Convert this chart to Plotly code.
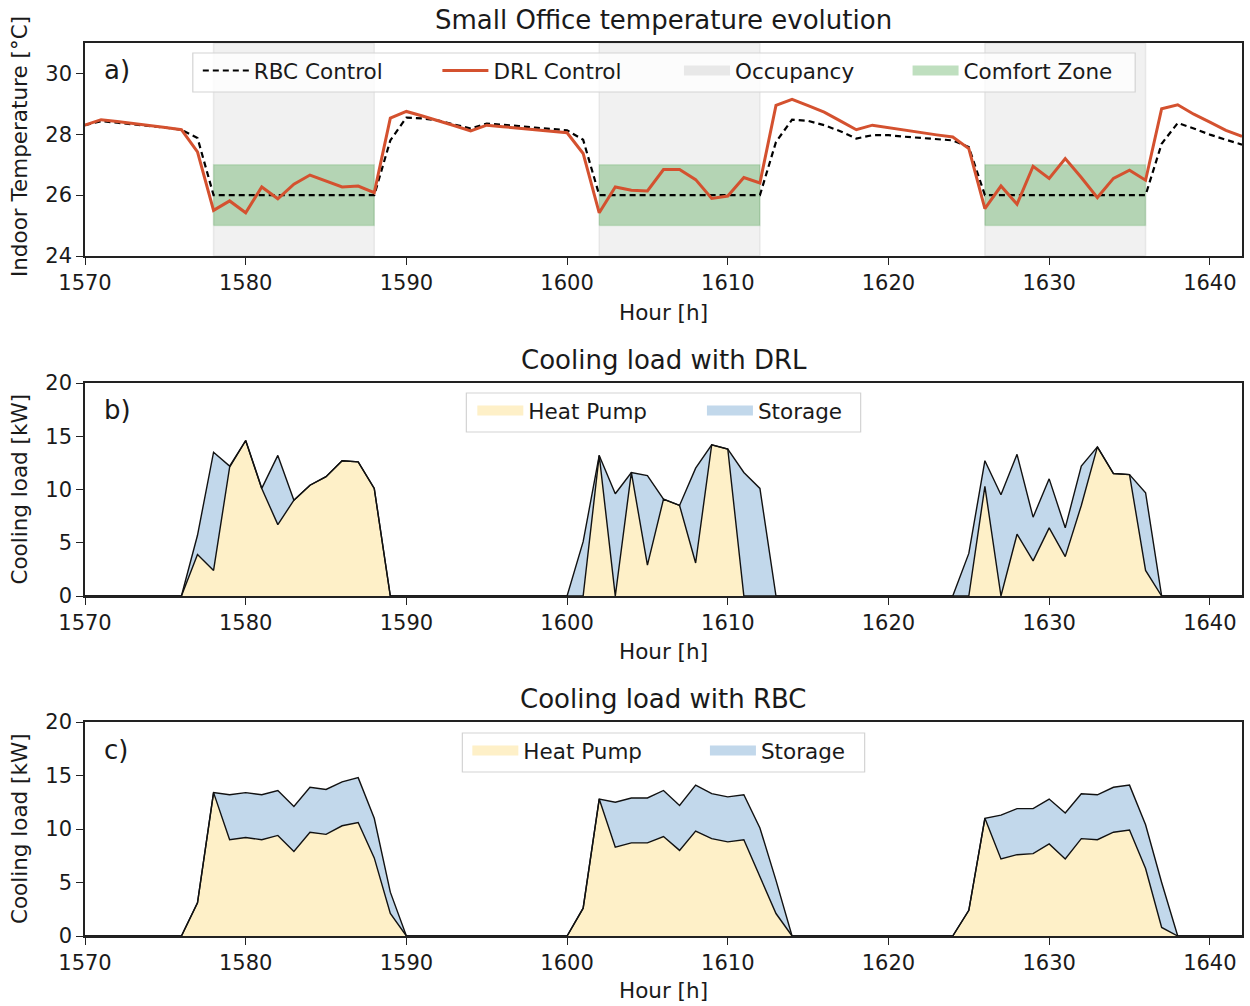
import plotly.graph_objects as go

# ---------------- data ----------------
HOURS = list(range(1570, 1643))
TICK_HOURS = [1570, 1580, 1590, 1600, 1610, 1620, 1630, 1640]

T_RBC = [28.30, 28.43, 28.38, 28.33, 28.28, 28.22, 28.15, 27.88,
         26.0, 26.0, 26.0, 26.0, 26.0, 26.0, 26.0, 26.0, 26.0, 26.0, 26.0,
         27.80, 28.55, 28.52, 28.45, 28.32, 28.19, 28.35, 28.32, 28.27, 28.22, 28.17, 28.13, 27.82,
         26.0, 26.0, 26.0, 26.0, 26.0, 26.0, 26.0, 26.0, 26.0, 26.0, 26.0,
         27.75, 28.48, 28.44, 28.30, 28.10, 27.86, 27.97, 27.97, 27.92, 27.88, 27.84, 27.80, 27.58,
         26.0, 26.0, 26.0, 26.0, 26.0, 26.0, 26.0, 26.0, 26.0, 26.0, 26.0,
         27.69, 28.37, 28.19, 27.99, 27.82, 27.66]

T_DRL = [28.30, 28.48, 28.42, 28.36, 28.30, 28.22, 28.15, 27.42,
         25.50, 25.81, 25.42, 26.27, 25.88, 26.36, 26.66, 26.46, 26.27, 26.30, 26.08,
         28.53, 28.75, 28.60, 28.45, 28.28, 28.11, 28.30, 28.25, 28.20, 28.15, 28.10, 28.05, 27.37,
         25.42, 26.27, 26.16, 26.14, 26.84, 26.84, 26.51, 25.89, 25.97, 26.58, 26.40,
         28.95, 29.15, 28.94, 28.73, 28.44, 28.15, 28.30, 28.22, 28.12, 28.05, 27.98, 27.91, 27.53,
         25.56, 26.30, 25.70, 26.95, 26.55, 27.20, 26.58, 25.92, 26.55, 26.82, 26.49,
         28.84, 28.97, 28.66, 28.40, 28.13, 27.93]

OCC_START = [1578, 1602, 1626]
OCC_END = [1588, 1612, 1636]
COMFORT_LOW = 25
COMFORT_HIGH = 27

HP_DRL = [0, 0, 0, 0, 0, 0, 0, 3.9,
          2.4, 12.1, 14.6, 10.1, 6.7, 9.0, 10.4, 11.2, 12.7, 12.6, 10.1,
          0, 0, 0, 0, 0, 0, 0, 0, 0, 0, 0, 0, 0,
          13.2, 0, 11.6, 2.9, 9.1, 8.5, 3.1, 14.2, 13.8, 0, 0,
          0, 0, 0, 0, 0, 0, 0, 0, 0, 0, 0, 0, 0,
          10.3, 0, 5.8, 3.3, 6.4, 3.7, 8.5, 14.0, 11.5, 11.4, 2.4,
          0, 0, 0, 0, 0, 0]

ST_DRL = [0, 0, 0, 0, 0, 0, 0, 1.8,
          11.1, 0.1, 0, 0, 6.5, 0, 0, 0, 0, 0, 0,
          0, 0, 0, 0, 0, 0, 0, 0, 0, 0, 0, 0, 5.1,
          0, 9.6, 0, 8.4, 0, 0, 8.9, 0, 0, 11.6, 10.1,
          0, 0, 0, 0, 0, 0, 0, 0, 0, 0, 0, 0, 4.0,
          2.4, 9.5, 7.5, 4.1, 4.6, 2.7, 3.7, 0, 0, 0, 7.3,
          0, 0, 0, 0, 0, 0]

HP_RBC = [0, 0, 0, 0, 0, 0, 0, 3.1,
          13.4, 9.0, 9.2, 9.0, 9.4, 7.9, 9.7, 9.5, 10.3, 10.6, 7.3,
          2.1, 0, 0, 0, 0, 0, 0, 0, 0, 0, 0, 0, 2.6,
          12.8, 8.3, 8.7, 8.7, 9.3, 8.0, 9.8, 9.1, 8.8, 9.0, 5.5,
          2.1, 0, 0, 0, 0, 0, 0, 0, 0, 0, 0, 0, 2.4,
          11.0, 7.2, 7.6, 7.7, 8.6, 7.2, 9.1, 9.0, 9.7, 9.9, 6.3,
          0.8, 0, 0, 0, 0, 0]

ST_RBC = [0, 0, 0, 0, 0, 0, 0, 0,
          0, 4.2, 4.2, 4.2, 4.2, 4.2, 4.2, 4.2, 4.1, 4.2, 3.7,
          2.0, 0, 0, 0, 0, 0, 0, 0, 0, 0, 0, 0, 0,
          0, 4.2, 4.2, 4.2, 4.3, 4.2, 4.3, 4.2, 4.2, 4.2, 4.6,
          3.1, 0, 0, 0, 0, 0, 0, 0, 0, 0, 0, 0, 0,
          0, 4.1, 4.3, 4.2, 4.2, 4.3, 4.2, 4.2, 4.2, 4.2, 4.1,
          4.2, 0, 0, 0, 0, 0]

YT_A = [24, 26, 28, 30]
YT_LOAD = [0, 5, 10, 15, 20]

# ---------------- style ----------------
FONT = "DejaVu Sans"
TXT = "#1a1a1a"
RED = "#D4512F"
HP_COL = "#FEF0C8"
ST_COL = "#C2D8EB"
OCC_FILL = "rgba(211,211,211,0.32)"
OCC_EDGE = "rgba(200,200,200,0.35)"
CZ_FILL = "rgba(0,128,0,0.25)"
CZ_EDGE = "rgba(0,128,0,0.12)"
YR_A = [24, 31]
YR_L = [0, 20]

W, H = 1250, 1006
ML, MR, MT, MB = 85, 6, 43, 70
PW, PH = W - ML - MR, H - MT - MB


def py(pix):
    return (H - MB - pix) / PH


def px(pix):
    return (pix - ML) / PW


fig = go.Figure()

# occupancy and comfort rectangles built from intervals
occ_x, occ_y, cz_x, cz_y = [], [], [], []
for s, e in zip(OCC_START, OCC_END):
    occ_x += [s, e, e, s, s, None]
    occ_y += [YR_A[0], YR_A[0], YR_A[1], YR_A[1], YR_A[0], None]
    cz_x += [s, e, e, s, s, None]
    cz_y += [COMFORT_LOW, COMFORT_LOW, COMFORT_HIGH, COMFORT_HIGH, COMFORT_LOW, None]

fig.add_trace(go.Scatter(x=occ_x, y=occ_y, mode="lines", fill="toself", fillcolor=OCC_FILL,
                         line=dict(color=OCC_EDGE, width=1.5), showlegend=False, hoverinfo="skip",
                         xaxis="x", yaxis="y"))
fig.add_trace(go.Scatter(x=cz_x, y=cz_y, mode="lines", fill="toself", fillcolor=CZ_FILL,
                         line=dict(color=CZ_EDGE, width=1.5), showlegend=False, hoverinfo="skip",
                         xaxis="x", yaxis="y"))
fig.add_trace(go.Scatter(x=HOURS, y=T_RBC, mode="lines", name="RBC Control",
                         line=dict(color="black", width=2.2, dash="6px,4px"),
                         xaxis="x", yaxis="y", legend="legend"))
fig.add_trace(go.Scatter(x=HOURS, y=T_DRL, mode="lines", name="DRL Control",
                         line=dict(color=RED, width=3),
                         xaxis="x", yaxis="y", legend="legend2"))
# legend proxies for patches
fig.add_trace(go.Scatter(x=[None], y=[None], mode="lines", name="Occupancy",
                         line=dict(color="rgba(215,215,215,0.55)", width=10),
                         xaxis="x", yaxis="y", legend="legend3"))
fig.add_trace(go.Scatter(x=[None], y=[None], mode="lines", name="Comfort Zone",
                         line=dict(color="rgba(0,128,0,0.25)", width=10),
                         xaxis="x", yaxis="y", legend="legend4"))

# cooling loads
for hp, st, xa, ya, grp, lg1, lg2 in [(HP_DRL, ST_DRL, "x2", "y2", "b", "legend5", "legend6"),
                                      (HP_RBC, ST_RBC, "x3", "y3", "c", "legend7", "legend8")]:
    fig.add_trace(go.Scatter(x=HOURS, y=hp, mode="lines", stackgroup=grp, fillcolor=HP_COL,
                             line=dict(color="#111", width=1.4), showlegend=False,
                             xaxis=xa, yaxis=ya))
    fig.add_trace(go.Scatter(x=HOURS, y=st, mode="lines", stackgroup=grp, fillcolor=ST_COL,
                             line=dict(color="#111", width=1.4), showlegend=False,
                             xaxis=xa, yaxis=ya))
    fig.add_trace(go.Scatter(x=[None], y=[None], mode="lines", name="Heat Pump",
                             line=dict(color=HP_COL, width=10), xaxis=xa, yaxis=ya, legend=lg1))
    fig.add_trace(go.Scatter(x=[None], y=[None], mode="lines", name="Storage",
                             line=dict(color=ST_COL, width=10), xaxis=xa, yaxis=ya, legend=lg2))

# ---------------- layout ----------------
xcommon = dict(range=[1570, 1642], tickvals=TICK_HOURS, ticks="outside", ticklen=7, tickwidth=1.4,
               tickcolor="#222", showline=True, mirror=True, linecolor="#222", linewidth=1.5,
               showgrid=False, zeroline=False, tickfont=dict(size=21, color=TXT, family=FONT))
ycommon = dict(ticks="outside", ticklen=7, tickwidth=1.4, tickcolor="#222", showline=True,
               mirror=True, linecolor="#222", linewidth=1.5, showgrid=False, zeroline=False,
               tickfont=dict(size=21, color=TXT, family=FONT))

legcommon = dict(orientation="h", bgcolor="rgba(0,0,0,0)", borderwidth=0,
                 font=dict(size=21.5, color=TXT, family=FONT), itemwidth=46,
                 xanchor="left", yanchor="top", traceorder="normal")

# legend item placements: (patch left pixel, box top pixel)
LEG_POS = {
    "legend": (204, 53), "legend2": (444, 53), "legend3": (686, 53), "legend4": (915, 53),
    "legend5": (479, 393), "legend6": (709, 393),
    "legend7": (474, 733), "legend8": (712, 733),
}
legends = {k: dict(x=px(v[0] - 6), y=py(v[1] - 3), **legcommon) for k, v in LEG_POS.items()}

# legend frames: (left, right, top, bottom) pixels
LEG_BOX = [(193, 1137, 53, 92), (467, 862, 393, 432), (463, 866, 733, 772)]
shapes = [dict(type="rect", xref="paper", yref="paper", x0=px(l), x1=px(r), y0=py(b), y1=py(t),
               fillcolor="rgba(255,255,255,0.8)", line=dict(color="#D3D3D3", width=1.2),
               layer="above") for (l, r, t, b) in LEG_BOX]

fig.update_layout(
    width=W, height=H, margin=dict(l=ML, r=MR, t=MT, b=MB),
    plot_bgcolor="white", paper_bgcolor="white",
    font=dict(family=FONT, color=TXT),
    xaxis=dict(domain=[0, 1], anchor="y", **xcommon),
    yaxis=dict(domain=[py(256), 1], anchor="x", range=YR_A, tickvals=YT_A, **ycommon),
    xaxis2=dict(domain=[0, 1], anchor="y2", **xcommon),
    yaxis2=dict(domain=[py(596), py(383)], anchor="x2", range=YR_L, tickvals=YT_LOAD, **ycommon),
    xaxis3=dict(domain=[0, 1], anchor="y3", **xcommon),
    yaxis3=dict(domain=[0, py(722)], anchor="x3", range=YR_L, tickvals=YT_LOAD, **ycommon),
    showlegend=True,
    shapes=shapes,
    **legends,
)

ann = []
for txt, ypix in [("Small Office temperature evolution", 20), ("Cooling load with DRL", 360),
                  ("Cooling load with RBC", 699)]:
    ann.append(dict(text=txt, x=0.5, y=py(ypix), xref="paper", yref="paper", showarrow=False,
                    xanchor="center", yanchor="middle", font=dict(size=26, color=TXT, family=FONT)))
for ypix in [312, 651, 990]:
    ann.append(dict(text="Hour [h]", x=0.5, y=py(ypix), xref="paper", yref="paper", showarrow=False,
                    xanchor="center", yanchor="middle", font=dict(size=21.5, color=TXT, family=FONT)))
for txt, ypix in [("Indoor Temperature [°C]", 147), ("Cooling load [kW]", 489.5),
                  ("Cooling load [kW]", 829)]:
    ann.append(dict(text=txt, x=px(19), y=py(ypix), xref="paper", yref="paper", showarrow=False,
                    textangle=-90, xanchor="center", yanchor="middle",
                    font=dict(size=21.5, color=TXT, family=FONT)))
for txt, ypix in [("a)", 70), ("b)", 410), ("c)", 750)]:
    ann.append(dict(text=txt, x=px(102), y=py(ypix), xref="paper", yref="paper", showarrow=False,
                    xanchor="left", yanchor="middle", font=dict(size=26, color=TXT, family=FONT)))
fig.update_layout(annotations=ann)

fig.write_html("out.html", config={"displayModeBar": False},
               post_script="document.body.style.margin='0px';document.body.style.overflow='hidden';")
